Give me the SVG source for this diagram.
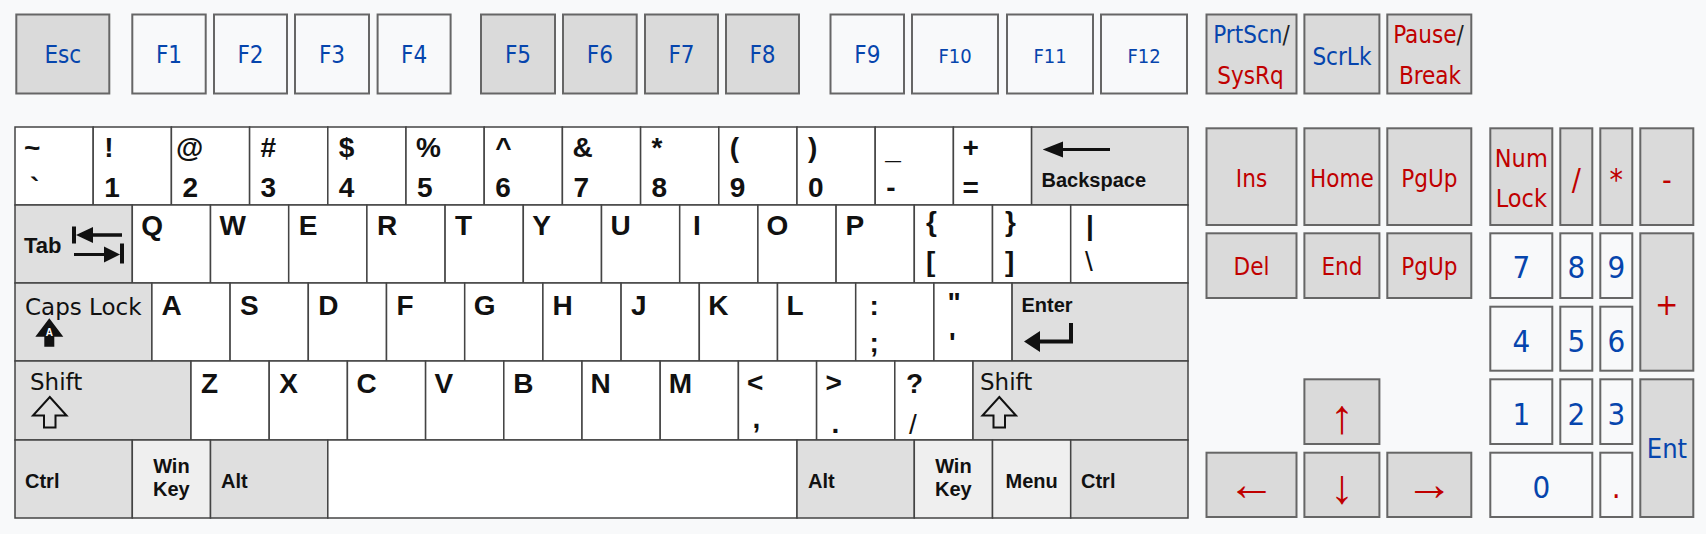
<svg xmlns="http://www.w3.org/2000/svg" width="1706" height="534" viewBox="0 0 1706 534">
<style>
.bg{fill:#f8f9fa}
.fk rect{stroke:#666;stroke-width:2}
.dk{fill:#dadada}
.lt{fill:#f8f9fa}
.t{font-family:"DejaVu Sans Condensed","DejaVu Sans",sans-serif;font-stretch:condensed;font-size:24px;text-anchor:middle}
.s{font-size:20px}
.n{font-size:31px}
.bl{fill:#0645ad}
.rd{fill:#c00000}
.sl{fill:#202122}
.mk rect{stroke:#444;stroke-width:1.5}
.w{fill:#fff}
.g{fill:#dfdfdf}
.lg{fill:#efefef}
.l{font-family:"Liberation Sans",Arial,sans-serif;font-weight:bold;font-size:28px;fill:#111}
.m{font-family:"Liberation Sans",Arial,sans-serif;font-weight:bold;font-size:20px;fill:#111}
.c{text-anchor:middle}
.d{font-family:"DejaVu Sans",sans-serif;font-size:23px;fill:#111}
.ic{fill:#111}
.io{fill:none;stroke:#111;stroke-width:2;stroke-linejoin:miter}
.ar{font-family:"Liberation Sans",Arial,sans-serif;font-size:48px;text-anchor:middle;fill:#c00000}
</style>
<rect class="bg" x="0" y="0" width="1706" height="534"/>

<!-- Function row -->
<g class="fk">
<g id="key-esc"><rect class="dk" x="16.3" y="14.5" width="93" height="79"/><text class="t bl" x="62.8" y="63">Esc</text></g>
<g id="key-f1"><rect class="lt" x="132.3" y="14.5" width="73.4" height="79"/><text class="t bl" x="169" y="63">F1</text></g>
<g id="key-f2"><rect class="lt" x="214" y="14.5" width="73" height="79"/><text class="t bl" x="250.5" y="63">F2</text></g>
<g id="key-f3"><rect class="lt" x="295" y="14.5" width="74" height="79"/><text class="t bl" x="332" y="63">F3</text></g>
<g id="key-f4"><rect class="lt" x="377.6" y="14.5" width="73" height="79"/><text class="t bl" x="414.1" y="63">F4</text></g>
<g id="key-f5"><rect class="dk" x="481" y="14.5" width="74" height="79"/><text class="t bl" x="518" y="63">F5</text></g>
<g id="key-f6"><rect class="dk" x="563" y="14.5" width="73.7" height="79"/><text class="t bl" x="599.9" y="63">F6</text></g>
<g id="key-f7"><rect class="dk" x="645" y="14.5" width="73" height="79"/><text class="t bl" x="681.5" y="63">F7</text></g>
<g id="key-f8"><rect class="dk" x="726" y="14.5" width="73" height="79"/><text class="t bl" x="762.5" y="63">F8</text></g>
<g id="key-f9"><rect class="lt" x="830.5" y="14.5" width="73.5" height="79"/><text class="t bl" x="867.3" y="63">F9</text></g>
<g id="key-f10"><rect class="lt" x="912" y="14.5" width="86" height="79"/><text class="t s bl" x="955" y="63">F10</text></g>
<g id="key-f11"><rect class="lt" x="1007" y="14.5" width="86" height="79"/><text class="t s bl" x="1050" y="63">F11</text></g>
<g id="key-f12"><rect class="lt" x="1101" y="14.5" width="86" height="79"/><text class="t s bl" x="1144" y="63">F12</text></g>
<g id="key-prtscn"><rect class="dk" x="1206.5" y="14.5" width="90" height="79"/><text class="t" x="1251.5" y="43"><tspan class="bl">PrtScn</tspan><tspan class="sl">/</tspan></text><text class="t rd" x="1250.5" y="84">SysRq</text></g>
<g id="key-scrlk"><rect class="dk" x="1304.4" y="14.5" width="75" height="79"/><text class="t bl" x="1341.9" y="65">ScrLk</text></g>
<g id="key-pause"><rect class="dk" x="1387.3" y="14.5" width="84" height="79"/><text class="t" x="1428.5" y="43"><tspan class="rd">Pause</tspan><tspan class="sl">/</tspan></text><text class="t rd" x="1430" y="84">Break</text></g>

<!-- Navigation block -->
<g id="key-ins"><rect class="dk" x="1206.5" y="128.3" width="90" height="96.7"/><text class="t rd" x="1251.5" y="187">Ins</text></g>
<g id="key-home"><rect class="dk" x="1304.4" y="128.3" width="75" height="96.7"/><text class="t rd" x="1341.9" y="187">Home</text></g>
<g id="key-pgup"><rect class="dk" x="1387.3" y="128.3" width="84" height="96.7"/><text class="t rd" x="1429.3" y="187">PgUp</text></g>
<g id="key-del"><rect class="dk" x="1206.5" y="233.3" width="90" height="64.7"/><text class="t rd" x="1251.5" y="274.5">Del</text></g>
<g id="key-end"><rect class="dk" x="1304.4" y="233.3" width="75" height="64.7"/><text class="t rd" x="1341.9" y="274.5">End</text></g>
<g id="key-pgup2"><rect class="dk" x="1387.3" y="233.3" width="84" height="64.7"/><text class="t rd" x="1429.3" y="274.5">PgUp</text></g>
<g id="key-up"><rect class="dk" x="1304.4" y="379.3" width="75" height="64.7"/><text class="ar" x="1341.9" y="433">↑</text></g>
<g id="key-left"><rect class="dk" x="1206.5" y="452.7" width="90" height="64.3"/><text class="ar" x="1251.5" y="500">←</text></g>
<g id="key-down"><rect class="dk" x="1304.4" y="452.7" width="75" height="64.3"/><text class="ar" x="1341.9" y="503">↓</text></g>
<g id="key-right"><rect class="dk" x="1387.3" y="452.7" width="84" height="64.3"/><text class="ar" x="1429.3" y="500">→</text></g>

<!-- Numeric keypad -->
<g id="key-numlock"><rect class="dk" x="1490.3" y="128.3" width="62" height="96.7"/><text class="t rd" x="1521.3" y="167" style="font-size:25px">Num</text><text class="t rd" x="1521.3" y="207" style="font-size:25px">Lock</text></g>
<g id="key-kpdiv"><rect class="dk" x="1560.3" y="128.3" width="32" height="96.7"/><text class="t rd" x="1576.3" y="190" style="font-size:30px">/</text></g>
<g id="key-kpmul"><rect class="dk" x="1600.3" y="128.3" width="32" height="96.7"/><text class="t rd" x="1616.3" y="190" style="font-size:30px">*</text></g>
<g id="key-kpsub"><rect class="dk" x="1640.3" y="128.3" width="53" height="96.7"/><text class="t rd" x="1666.8" y="190" style="font-size:30px">-</text></g>
<g id="key-kp7"><rect class="lt" x="1490.3" y="233.3" width="62" height="64.7"/><text class="t n bl" x="1521.3" y="278">7</text></g>
<g id="key-kp8"><rect class="lt" x="1560.3" y="233.3" width="32" height="64.7"/><text class="t n bl" x="1576.3" y="278">8</text></g>
<g id="key-kp9"><rect class="lt" x="1600.3" y="233.3" width="32" height="64.7"/><text class="t n bl" x="1616.3" y="278">9</text></g>
<g id="key-kpadd"><rect class="dk" x="1640.3" y="233.3" width="53" height="137.4"/><text class="t n rd" x="1666.8" y="315">+</text></g>
<g id="key-kp4"><rect class="lt" x="1490.3" y="306.7" width="62" height="64"/><text class="t n bl" x="1521.3" y="352">4</text></g>
<g id="key-kp5"><rect class="lt" x="1560.3" y="306.7" width="32" height="64"/><text class="t n bl" x="1576.3" y="352">5</text></g>
<g id="key-kp6"><rect class="lt" x="1600.3" y="306.7" width="32" height="64"/><text class="t n bl" x="1616.3" y="352">6</text></g>
<g id="key-kp1"><rect class="lt" x="1490.3" y="379.3" width="62" height="64.7"/><text class="t n bl" x="1521.3" y="425">1</text></g>
<g id="key-kp2"><rect class="lt" x="1560.3" y="379.3" width="32" height="64.7"/><text class="t n bl" x="1576.3" y="425">2</text></g>
<g id="key-kp3"><rect class="lt" x="1600.3" y="379.3" width="32" height="64.7"/><text class="t n bl" x="1616.3" y="425">3</text></g>
<g id="key-kpent"><rect class="dk" x="1640.3" y="379.3" width="53" height="137.7"/><text class="t bl" x="1667" y="458" style="font-size:27px">Ent</text></g>
<g id="key-kp0"><rect class="lt" x="1490.3" y="452.7" width="102" height="64.3"/><text class="t n bl" x="1541.3" y="498">0</text></g>
<g id="key-kpdot"><rect class="lt" x="1600.3" y="452.7" width="32" height="64.3"/><text class="t n rd" x="1616.3" y="498">.</text></g>
</g>

<!-- Main keyboard -->
<g class="mk">
<!-- Row 1 -->
<g id="key-tilde"><rect class="w" x="15" y="127" width="78.2" height="78"/><text class="l" x="24" y="157">~</text><text class="l" x="30" y="197">`</text></g>
<g id="key-1"><rect class="w" x="93.2" y="127" width="78.2" height="78"/><text class="l" x="104.2" y="157">!</text><text class="l" x="104.2" y="197">1</text></g>
<g id="key-2"><rect class="w" x="171.4" y="127" width="78.2" height="78"/><text class="l" x="176" y="157">@</text><text class="l" x="182.4" y="197">2</text></g>
<g id="key-3"><rect class="w" x="249.6" y="127" width="78.2" height="78"/><text class="l" x="260.6" y="157">#</text><text class="l" x="260.6" y="197">3</text></g>
<g id="key-4"><rect class="w" x="327.8" y="127" width="78.2" height="78"/><text class="l" x="338.8" y="157">$</text><text class="l" x="338.8" y="197">4</text></g>
<g id="key-5"><rect class="w" x="406" y="127" width="78.2" height="78"/><text class="l" x="416" y="157">%</text><text class="l" x="417" y="197">5</text></g>
<g id="key-6"><rect class="w" x="484.2" y="127" width="78.2" height="78"/><text class="l" x="495.2" y="157">^</text><text class="l" x="495.2" y="197">6</text></g>
<g id="key-7"><rect class="w" x="562.4" y="127" width="78.2" height="78"/><text class="l" x="572.4" y="157">&amp;</text><text class="l" x="573.4" y="197">7</text></g>
<g id="key-8"><rect class="w" x="640.6" y="127" width="78.2" height="78"/><text class="l" x="651.6" y="157">*</text><text class="l" x="651.6" y="197">8</text></g>
<g id="key-9"><rect class="w" x="718.8" y="127" width="78.2" height="78"/><text class="l" x="729.8" y="157">(</text><text class="l" x="729.8" y="197">9</text></g>
<g id="key-0"><rect class="w" x="797" y="127" width="78.2" height="78"/><text class="l" x="808" y="157">)</text><text class="l" x="808" y="197">0</text></g>
<g id="key-minus"><rect class="w" x="875.2" y="127" width="78.2" height="78"/><text class="l" x="885.2" y="159">_</text><text class="l" x="886.2" y="197">-</text></g>
<g id="key-equals"><rect class="w" x="953.4" y="127" width="78.2" height="78"/><text class="l" x="962.4" y="157">+</text><text class="l" x="962.4" y="197">=</text></g>
<g id="key-backspace"><rect class="g" x="1031.6" y="127" width="156.4" height="78"/><path class="ic" d="M1042.7,149.5 L1063,141.5 L1063,148 L1110,148 L1110,151 L1063,151 L1063,157.5 Z"/><text class="m" x="1041.5" y="187">Backspace</text></g>
<!-- Row 2 -->
<g id="key-tab"><rect class="g" x="15" y="205" width="117.3" height="78"/><text class="m" x="24" y="253" style="font-size:22px">Tab</text><path class="ic" d="M72,226.5 H76 V243.5 H72 Z M76,235 L93,227 L93,233.3 L122,233.3 L122,236.7 L93,236.7 L93,243 Z M74,253 L104,253 L104,246.5 L120,254.5 L104,262.5 L104,256 L74,256 Z M120,243.5 H124 V263.5 H120 Z"/></g>
<g id="key-q"><rect class="w" x="132.3" y="205" width="78.2" height="78"/><text class="l" x="141.3" y="235">Q</text></g>
<g id="key-w"><rect class="w" x="210.5" y="205" width="78.2" height="78"/><text class="l" x="219.5" y="235">W</text></g>
<g id="key-e"><rect class="w" x="288.7" y="205" width="78.2" height="78"/><text class="l" x="298.7" y="235">E</text></g>
<g id="key-r"><rect class="w" x="366.9" y="205" width="78.2" height="78"/><text class="l" x="376.9" y="235">R</text></g>
<g id="key-t"><rect class="w" x="445.1" y="205" width="78.2" height="78"/><text class="l" x="455.1" y="235">T</text></g>
<g id="key-y"><rect class="w" x="523.3" y="205" width="78.2" height="78"/><text class="l" x="532.3" y="235">Y</text></g>
<g id="key-u"><rect class="w" x="601.5" y="205" width="78.2" height="78"/><text class="l" x="610.5" y="235">U</text></g>
<g id="key-i"><rect class="w" x="679.7" y="205" width="78.2" height="78"/><text class="l" x="693" y="235">I</text></g>
<g id="key-o"><rect class="w" x="757.9" y="205" width="78.2" height="78"/><text class="l" x="766.4" y="235">O</text></g>
<g id="key-p"><rect class="w" x="836.1" y="205" width="78.2" height="78"/><text class="l" x="845.6" y="235">P</text></g>
<g id="key-lbracket"><rect class="w" x="914.3" y="205" width="78.2" height="78"/><text class="l" x="926" y="231">{</text><text class="l" x="926" y="271">[</text></g>
<g id="key-rbracket"><rect class="w" x="992.5" y="205" width="78.2" height="78"/><text class="l" x="1005" y="231">}</text><text class="l" x="1005" y="271">]</text></g>
<g id="key-backslash"><rect class="w" x="1070.7" y="205" width="117.3" height="78"/><text class="l" x="1086" y="235">|</text><text class="l" x="1085" y="271" style="font-weight:normal">\</text></g>
<!-- Row 3 -->
<g id="key-capslock"><rect class="g" x="15" y="283" width="136.9" height="78"/><text class="d" x="25" y="315">Caps Lock</text><path class="ic" d="M49.3,318.3 L63.3,336.7 L54.3,336.7 L54.3,346.7 L44.3,346.7 L44.3,336.7 L35.3,336.7 Z"/><text x="49.3" y="336" style="font-family:'Liberation Sans',Arial,sans-serif;font-weight:bold;font-size:10px;fill:#fff;text-anchor:middle">A</text></g>
<g id="key-a"><rect class="w" x="151.9" y="283" width="78.2" height="78"/><text class="l" x="161.6" y="315">A</text></g>
<g id="key-s"><rect class="w" x="230.1" y="283" width="78.2" height="78"/><text class="l" x="240.1" y="315">S</text></g>
<g id="key-d"><rect class="w" x="308.3" y="283" width="78.2" height="78"/><text class="l" x="318.3" y="315">D</text></g>
<g id="key-f"><rect class="w" x="386.5" y="283" width="78.2" height="78"/><text class="l" x="396.5" y="315">F</text></g>
<g id="key-g"><rect class="w" x="464.7" y="283" width="78.2" height="78"/><text class="l" x="473.7" y="315">G</text></g>
<g id="key-h"><rect class="w" x="542.9" y="283" width="78.2" height="78"/><text class="l" x="552.4" y="315">H</text></g>
<g id="key-j"><rect class="w" x="621.1" y="283" width="78.2" height="78"/><text class="l" x="631.1" y="315">J</text></g>
<g id="key-k"><rect class="w" x="699.3" y="283" width="78.2" height="78"/><text class="l" x="708.3" y="315">K</text></g>
<g id="key-l"><rect class="w" x="777.5" y="283" width="78.2" height="78"/><text class="l" x="786.5" y="315">L</text></g>
<g id="key-semicolon"><rect class="w" x="855.7" y="283" width="78.2" height="78"/><text class="l" x="869.5" y="315">:</text><text class="l" x="869.5" y="352">;</text></g>
<g id="key-quote"><rect class="w" x="933.9" y="283" width="78.2" height="78"/><text class="l" x="947.5" y="312">"</text><text class="l" x="949" y="352">'</text></g>
<g id="key-enter"><rect class="g" x="1012.1" y="283" width="175.9" height="78"/><text class="m" x="1021.5" y="311.5">Enter</text><path class="ic" d="M1069,323 H1073 V343.5 H1040 V352 L1024,341.5 L1040,331 V339.5 H1069 Z"/></g>
<!-- Row 4 -->
<g id="key-lshift"><rect class="g" x="15" y="361" width="176" height="79"/><text class="d" x="30" y="390">Shift</text><path class="io" d="M49.8,397 L66.5,415.5 L55.5,415.5 L55.5,427.5 L44,427.5 L44,415.5 L33,415.5 Z"/></g>
<g id="key-z"><rect class="w" x="191" y="361" width="78.2" height="79"/><text class="l" x="201" y="393">Z</text></g>
<g id="key-x"><rect class="w" x="269.2" y="361" width="78.2" height="79"/><text class="l" x="279.2" y="393">X</text></g>
<g id="key-c"><rect class="w" x="347.4" y="361" width="78.2" height="79"/><text class="l" x="356.4" y="393">C</text></g>
<g id="key-v"><rect class="w" x="425.6" y="361" width="78.2" height="79"/><text class="l" x="434.6" y="393">V</text></g>
<g id="key-b"><rect class="w" x="503.8" y="361" width="78.2" height="79"/><text class="l" x="513.3" y="393">B</text></g>
<g id="key-n"><rect class="w" x="582" y="361" width="78.2" height="79"/><text class="l" x="590.5" y="393">N</text></g>
<g id="key-m"><rect class="w" x="660.2" y="361" width="78.2" height="79"/><text class="l" x="668.7" y="393">M</text></g>
<g id="key-comma"><rect class="w" x="738.4" y="361" width="78.2" height="79"/><text class="l" x="747" y="392">&lt;</text><text class="l" x="752.5" y="428">,</text></g>
<g id="key-period"><rect class="w" x="816.6" y="361" width="78.2" height="79"/><text class="l" x="825.5" y="392">&gt;</text><text class="l" x="831.5" y="433">.</text></g>
<g id="key-slash"><rect class="w" x="894.8" y="361" width="78.2" height="79"/><text class="l" x="906" y="393">?</text><text class="l" x="909" y="434" style="font-weight:normal">/</text></g>
<g id="key-rshift"><rect class="g" x="973" y="361" width="215" height="79"/><text class="d" x="980" y="390">Shift</text><path class="io" d="M999.3,397 L1016,415.5 L1005,415.5 L1005,427.5 L993.5,427.5 L993.5,415.5 L982.5,415.5 Z"/></g>
<!-- Row 5 -->
<g id="key-lctrl"><rect class="g" x="15" y="440" width="117.3" height="78"/><text class="m" x="25" y="488">Ctrl</text></g>
<g id="key-lwin"><rect class="lg" x="132.3" y="440" width="78.2" height="78"/><text class="m c" x="171.4" y="473">Win</text><text class="m c" x="171.4" y="496">Key</text></g>
<g id="key-lalt"><rect class="g" x="210.5" y="440" width="117.3" height="78"/><text class="m" x="221" y="488">Alt</text></g>
<g id="key-space"><rect class="w" x="327.8" y="440" width="469.2" height="78"/></g>
<g id="key-ralt"><rect class="g" x="797" y="440" width="117.3" height="78"/><text class="m" x="808" y="488">Alt</text></g>
<g id="key-rwin"><rect class="lg" x="914.3" y="440" width="78.2" height="78"/><text class="m c" x="953.4" y="473">Win</text><text class="m c" x="953.4" y="496">Key</text></g>
<g id="key-menu"><rect class="lg" x="992.5" y="440" width="78.2" height="78"/><text class="m c" x="1031.6" y="488">Menu</text></g>
<g id="key-rctrl"><rect class="g" x="1070.7" y="440" width="117.3" height="78"/><text class="m" x="1081" y="488">Ctrl</text></g>
</g>

<g id="connectors"/>
</svg>
